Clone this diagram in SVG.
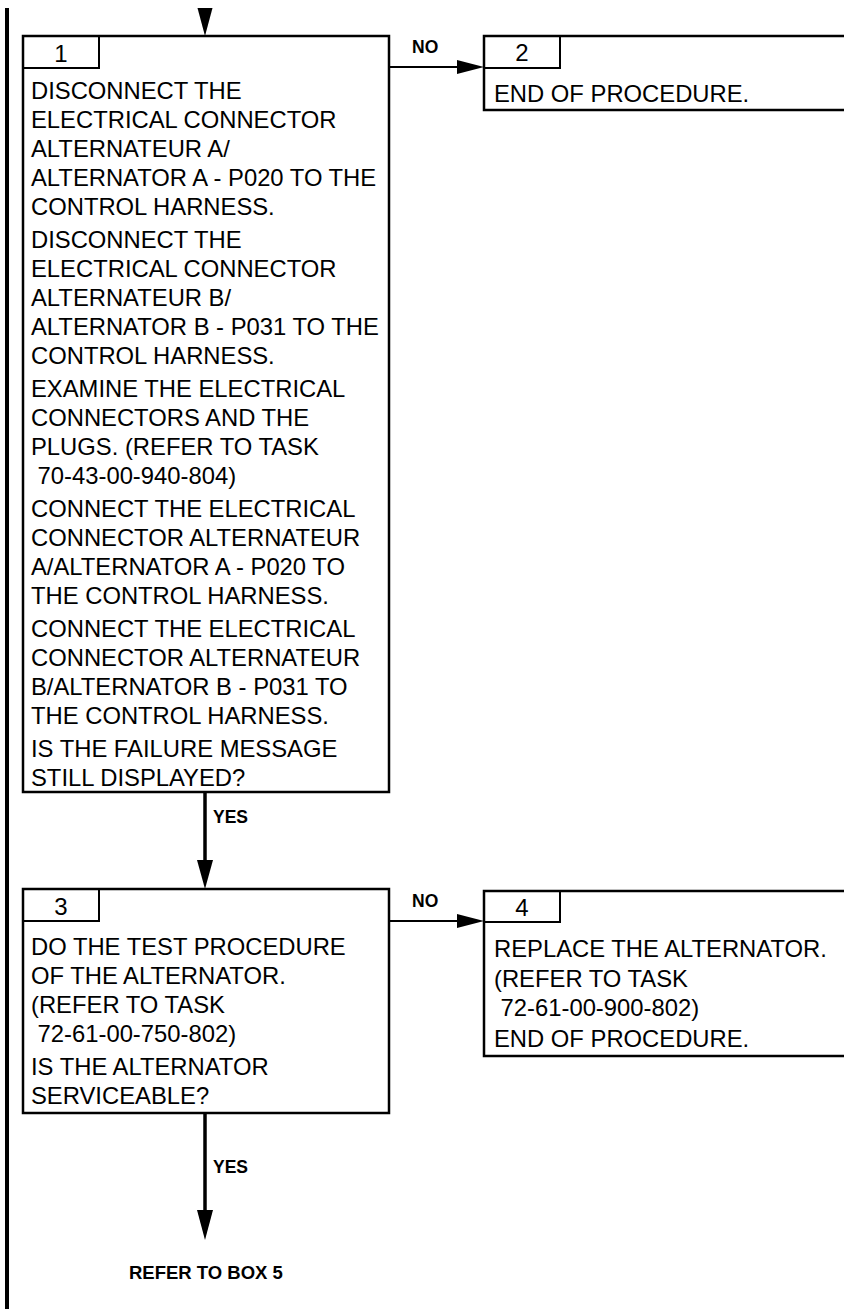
<svg xmlns="http://www.w3.org/2000/svg" width="844" height="1309" viewBox="0 0 844 1309">
<style>
.box{fill:#fff;stroke:#000;stroke-width:2.5}
.tab{fill:none;stroke:#000;stroke-width:2}
.t{font-family:"Liberation Sans",Arial,sans-serif;font-size:23.8px;fill:#000}
.num{font-family:"Liberation Sans",Arial,sans-serif;font-size:24px;fill:#000;text-anchor:middle}
.lbl{font-family:"Liberation Sans",Arial,sans-serif;font-size:17.5px;font-weight:bold;fill:#000}
.ref{font-size:18.5px}
.shaft{stroke:#000;stroke-width:3.5;fill:none}
.hline{stroke:#000;stroke-width:2;fill:none}
.head{fill:#000;stroke:none}
</style>
<rect x="5" y="8" width="4" height="1301" fill="#000"/>
<g id="connectors">
<polygon class="head" points="197.5,8 212.5,8 205,36"/>
<line class="hline" x1="389" y1="67" x2="460" y2="67"/>
<polygon class="head" points="457,60 484,67 457,74"/>
<text class="lbl" x="412" y="53">NO</text>
<line class="shaft" x1="205" y1="792" x2="205" y2="862"/>
<polygon class="head" points="197,860 213,860 205,889"/>
<text class="lbl" x="213" y="823">YES</text>
<line class="hline" x1="389" y1="921" x2="460" y2="921"/>
<polygon class="head" points="457,914 484,921 457,928"/>
<text class="lbl" x="412" y="907">NO</text>
<line class="shaft" x1="205" y1="1113" x2="205" y2="1212"/>
<polygon class="head" points="197,1210 213,1210 205,1240"/>
<text class="lbl" x="213" y="1173">YES</text>
<text class="lbl ref" x="129" y="1279">REFER TO BOX 5</text>
</g>
<g id="box1">
<rect class="box" x="23" y="36" width="366" height="756"/>
<rect class="tab" x="23" y="36" width="76" height="32"/>
<text class="num" x="61" y="62">1</text>
<text class="t" xml:space="preserve"><tspan x="31" y="99">DISCONNECT THE</tspan><tspan x="31" y="128">ELECTRICAL CONNECTOR</tspan><tspan x="31" y="157">ALTERNATEUR A/</tspan><tspan x="31" y="186">ALTERNATOR A - P020 TO THE</tspan><tspan x="31" y="215">CONTROL HARNESS.</tspan><tspan x="31" y="248">DISCONNECT THE</tspan><tspan x="31" y="277">ELECTRICAL CONNECTOR</tspan><tspan x="31" y="306">ALTERNATEUR B/</tspan><tspan x="31" y="335">ALTERNATOR B - P031 TO THE</tspan><tspan x="31" y="364">CONTROL HARNESS.</tspan><tspan x="31" y="397">EXAMINE THE ELECTRICAL</tspan><tspan x="31" y="426">CONNECTORS AND THE</tspan><tspan x="31" y="455">PLUGS. (REFER TO TASK</tspan><tspan x="31" y="484"> 70-43-00-940-804)</tspan><tspan x="31" y="517">CONNECT THE ELECTRICAL</tspan><tspan x="31" y="546">CONNECTOR ALTERNATEUR</tspan><tspan x="31" y="575">A/ALTERNATOR A - P020 TO</tspan><tspan x="31" y="604">THE CONTROL HARNESS.</tspan><tspan x="31" y="637">CONNECT THE ELECTRICAL</tspan><tspan x="31" y="666">CONNECTOR ALTERNATEUR</tspan><tspan x="31" y="695">B/ALTERNATOR B - P031 TO</tspan><tspan x="31" y="724">THE CONTROL HARNESS.</tspan><tspan x="31" y="757">IS THE FAILURE MESSAGE</tspan><tspan x="31" y="786">STILL DISPLAYED?</tspan></text>
</g>
<g id="box2">
<rect class="box" x="484" y="36" width="370" height="74"/>
<rect class="tab" x="484" y="36" width="76" height="32"/>
<text class="num" x="522" y="61">2</text>
<text class="t" x="494" y="102">END OF PROCEDURE.</text>
</g>
<g id="box3">
<rect class="box" x="23" y="889" width="366" height="224"/>
<rect class="tab" x="23" y="889" width="76" height="32"/>
<text class="num" x="61" y="915">3</text>
<text class="t" xml:space="preserve"><tspan x="31" y="955">DO THE TEST PROCEDURE</tspan><tspan x="31" y="984">OF THE ALTERNATOR.</tspan><tspan x="31" y="1013">(REFER TO TASK</tspan><tspan x="31" y="1042"> 72-61-00-750-802)</tspan><tspan x="31" y="1075">IS THE ALTERNATOR</tspan><tspan x="31" y="1104">SERVICEABLE?</tspan></text>
</g>
<g id="box4">
<rect class="box" x="484" y="891" width="370" height="165"/>
<rect class="tab" x="484" y="891" width="76" height="31"/>
<text class="num" x="522" y="916">4</text>
<text class="t" xml:space="preserve"><tspan x="494" y="957">REPLACE THE ALTERNATOR.</tspan><tspan x="494" y="987">(REFER TO TASK</tspan><tspan x="494" y="1016"> 72-61-00-900-802)</tspan><tspan x="494" y="1047">END OF PROCEDURE.</tspan></text>
</g>
</svg>
